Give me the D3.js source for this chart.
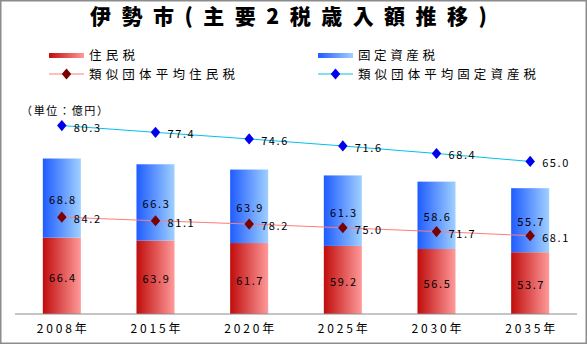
<!DOCTYPE html>
<html><head><meta charset="utf-8">
<script src="https://cdn.jsdelivr.net/npm/d3@7"></script>
<style>
html,body{margin:0;padding:0;background:#fff;}
svg{display:block;}
text{font-family:"Noto Sans CJK JP","DejaVu Sans",sans-serif;}
</style></head>
<body>
<svg id="c" width="587" height="344"></svg>
<script>
const categories = ["2008年","2015年","2020年","2025年","2030年","2035年"];
const juminzei = [66.4,63.9,61.7,59.2,56.5,53.7];
const koteishisanzei = [68.8,66.3,63.9,61.3,58.6,55.7];
const ruijiJumin = [84.2,81.1,78.2,75.0,71.7,68.1];
const ruijiKotei = [80.3,77.4,74.6,71.6,68.4,65.0];
const seriesNames = ["住民税","固定資産税","類似団体平均住民税","類似団体平均固定資産税"];
const title = "伊勢市(主要2税歳入額推移)";
const unitLabel = "（単位：億円）";

const svg = d3.select("#c");
const defs = svg.append("defs");
function grad(id, c1, c2){
  const g = defs.append("linearGradient").attr("id",id).attr("x1","0").attr("x2","1").attr("y1","0").attr("y2","0");
  g.append("stop").attr("offset","0").attr("stop-color",c1);
  g.append("stop").attr("offset","1").attr("stop-color",c2);
}
grad("gRed","#c00c0c","#ff9a9a");
grad("gBlue","#1f5cff","#a0d0ff");

svg.append("rect").attr("x",0.75).attr("y",0.75).attr("width",585.5).attr("height",342.5)
  .attr("fill","#fff").attr("stroke","#8c8c8c").attr("stroke-width",1.5);

const x = d3.scaleBand().domain(categories).range([15,577]).paddingInner(0.594).paddingOuter(0.297);
const y = d3.scaleLinear().domain([0,200]).range([314,84]);
const y2 = d3.scaleLinear().domain([0,98]).range([314,84]);

// title
svg.append("text").attr("x",90).attr("y",24).attr("font-size",21).attr("font-weight",900)
  .attr("textLength",397).attr("lengthAdjust","spacing").attr("fill","#000").text(title);

// legend
const lg = svg.append("g");
const diamond = d3.symbol().type(d3.symbolDiamond).size(50);
lg.append("rect").attr("x",49).attr("y",53).attr("width",35).attr("height",5).attr("fill","url(#gRed)");
lg.append("text").attr("x",89).attr("y",60).attr("font-size",12.5).attr("textLength",46).attr("lengthAdjust","spacing").text(seriesNames[0]);
lg.append("rect").attr("x",318).attr("y",53).attr("width",35).attr("height",5).attr("fill","url(#gBlue)");
lg.append("text").attr("x",358).attr("y",60).attr("font-size",12.5).attr("textLength",77).attr("lengthAdjust","spacing").text(seriesNames[1]);
lg.append("line").attr("x1",49).attr("x2",84).attr("y1",74).attr("y2",74).attr("stroke","#ff7c7c").attr("stroke-width",1);
lg.append("path").attr("d",diamond).attr("transform","translate(66.5,74) scale(1.25,0.85)").attr("fill","#7a0000");
lg.append("text").attr("x",89).attr("y",78.5).attr("font-size",12.5).attr("textLength",146).attr("lengthAdjust","spacing").text(seriesNames[2]);
lg.append("line").attr("x1",318).attr("x2",353).attr("y1",74).attr("y2",74).attr("stroke","#00c0f0").attr("stroke-width",1);
lg.append("path").attr("d",diamond).attr("transform","translate(335.5,74) scale(1.25,0.85)").attr("fill","#0000ee");
lg.append("text").attr("x",358).attr("y",78.5).attr("font-size",12.5).attr("textLength",178).attr("lengthAdjust","spacing").text(seriesNames[3]);

// unit
svg.append("text").attr("x",21).attr("y",115).attr("font-size",11).attr("textLength",87).attr("lengthAdjust","spacing").text(unitLabel);

// bars
const data = categories.map((c,i)=>({c, a:juminzei[i], b:koteishisanzei[i], l1:ruijiJumin[i], l2:ruijiKotei[i]}));
const bars = svg.append("g");
bars.selectAll("rect.r").data(data).join("rect").attr("class","r")
  .attr("x",d=>x(d.c)).attr("width",x.bandwidth())
  .attr("y",d=>y(d.a)).attr("height",d=>y(0)-y(d.a)).attr("fill","url(#gRed)");
bars.selectAll("rect.b").data(data).join("rect").attr("class","b")
  .attr("x",d=>x(d.c)).attr("width",x.bandwidth())
  .attr("y",d=>y(d.a+d.b)).attr("height",d=>y(d.a)-y(d.a+d.b)).attr("fill","url(#gBlue)");

const lblStyle = s=>s.attr("font-size",11).attr("letter-spacing",1.6).attr("fill","#000").attr("font-family","'DejaVu Sans',sans-serif").attr("dominant-baseline","central");
bars.selectAll("text.r").data(data).join("text").attr("class","r")
  .attr("x",d=>x(d.c)+x.bandwidth()/2+1).attr("y",d=>(y(0)+y(d.a))/2+1)
  .attr("text-anchor","middle").call(lblStyle).text(d=>d.a.toFixed(1));
bars.selectAll("text.b").data(data).join("text").attr("class","b")
  .attr("x",d=>x(d.c)+x.bandwidth()/2+1).attr("y",d=>(y(d.a)+y(d.a+d.b))/2+1)
  .attr("text-anchor","middle").call(lblStyle).text(d=>d.b.toFixed(1));

// axis
const ax = svg.append("g").attr("transform","translate(0,314)").call(d3.axisBottom(x).tickSize(0).tickPadding(10));
ax.select(".domain").attr("stroke","#8c8c8c").attr("stroke-width",1.2).attr("d","M15,0H577");
ax.selectAll("text").attr("font-size",12).attr("textLength",50).attr("lengthAdjust","spacing")
  .attr("font-family","'DejaVu Sans','Noto Sans CJK JP',sans-serif").attr("fill","#000");

// lines
const cx = d=>x(d.c)+x.bandwidth()/2;
const line1 = d3.line().x(cx).y(d=>y(d.l1));
const line2 = d3.line().x(cx).y(d=>y2(d.l2));
svg.append("path").datum(data).attr("d",line1).attr("fill","none").attr("stroke","#ff7c7c").attr("stroke-width",1);
svg.append("path").datum(data).attr("d",line2).attr("fill","none").attr("stroke","#00c0f0").attr("stroke-width",1);
svg.selectAll("path.m1").data(data).join("path").attr("class","m1").attr("d",diamond)
  .attr("transform",d=>`translate(${cx(d)},${y(d.l1)}) scale(1.25,0.85)`).attr("fill","#7a0000");
svg.selectAll("path.m2").data(data).join("path").attr("class","m2").attr("d",diamond)
  .attr("transform",d=>`translate(${cx(d)},${y2(d.l2)}) scale(1.25,0.85)`).attr("fill","#0000ee");
svg.selectAll("text.l1").data(data).join("text").attr("class","l1")
  .attr("x",d=>cx(d)+12).attr("y",d=>y(d.l1)+1).call(lblStyle).text(d=>d.l1.toFixed(1));
svg.selectAll("text.l2").data(data).join("text").attr("class","l2")
  .attr("x",d=>cx(d)+12).attr("y",d=>y2(d.l2)+1).call(lblStyle).text(d=>d.l2.toFixed(1));
</script>
</body></html>
